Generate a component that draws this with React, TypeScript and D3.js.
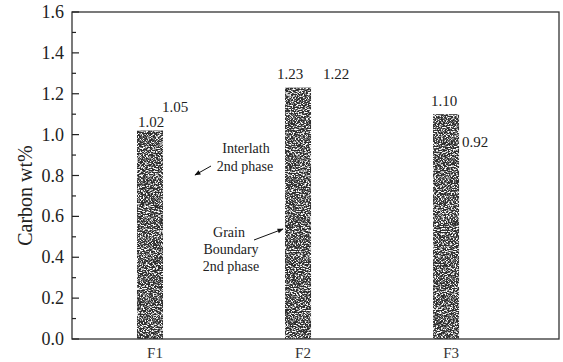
import React from "react";
import * as d3 from "d3";

// Carbon content of the three steels, with the second-phase readings
const categories = ["F1", "F2", "F3"];
const barValues = [1.02, 1.23, 1.1];
const secondValues = [1.05, 1.22, 0.92];
const yTicks = [0, 0.2, 0.4, 0.6, 0.8, 1.0, 1.2, 1.4, 1.6];

const W = 563;
const H = 362;
const m = { left: 72, right: 559, top: 12, bottom: 339 };

export default function App() {
  const x = d3.scaleLinear().domain([0.473, 3.763]).range([m.left, m.right]);
  const y = d3.scaleLinear().domain([0, 1.6]).range([m.bottom, m.top]);
  const minor = d3.range(0, 1.61, 0.1);
  const barW = 26;
  const font = "'Liberation Serif', 'DejaVu Serif', serif";

  // label offsets for the values, relative to each bar centre and top
  const firstPos = [
    { dx: 1, dy: -4 },
    { dx: -8, dy: -9 },
    { dx: -2, dy: -8 },
  ];
  const secondPos = [
    { dx: 25, dy: -19 },
    { dx: 38, dy: -9 },
    { dx: 29, dy: 33 },
  ];

  return (
    <svg width={W} height={H} style={{ position: "absolute", left: 0, top: 0 }} fontFamily={font}>
      <defs>
        <filter id="grain" x="0" y="0" width="100%" height="100%">
          <feTurbulence type="fractalNoise" baseFrequency="0.6 0.95" numOctaves="2" seed="7" result="n" />
          <feColorMatrix
            in="n"
            type="matrix"
            values="0 0 0 0 1  0 0 0 0 1  0 0 0 0 1  5 0 0 0 -2.3"
            result="speck"
          />
          <feComposite in="speck" in2="SourceGraphic" operator="in" />
        </filter>
        <marker id="ah" viewBox="0 0 10 10" refX="9" refY="5" markerWidth="7" markerHeight="6" orient="auto">
          <path d="M0,1 L10,5 L0,9 z" fill="#111" />
        </marker>
      </defs>
      <rect width={W} height={H} fill="#fff" />

      {/* bars */}
      {categories.map((c, i) => {
        const cx = x(i + 1);
        const top = y(barValues[i]);
        return (
          <g key={c}>
            <rect x={cx - barW / 2} y={top} width={barW} height={y(0) - top} fill="#2e2e2e" />
            <rect x={cx - barW / 2} y={top} width={barW} height={y(0) - top} fill="#000" filter="url(#grain)" />
          </g>
        );
      })}

      {/* frame */}
      <rect
        x={m.left}
        y={m.top}
        width={m.right - m.left}
        height={m.bottom - m.top}
        fill="none"
        stroke="#333"
        strokeWidth={1.3}
      />

      {/* y ticks */}
      {minor.map((v, i) => (
        <line
          key={"t" + i}
          x1={m.left}
          x2={m.left + (i % 2 === 0 ? 7 : 4)}
          y1={y(v)}
          y2={y(v)}
          stroke="#222"
          strokeWidth={1.2}
        />
      ))}
      {yTicks.map((v) => (
        <text key={"l" + v} x={64} y={y(v) + 6} textAnchor="end" fontSize={18} fill="#222">
          {d3.format(".1f")(v)}
        </text>
      ))}
      <text
        transform={`translate(32,${(m.top + m.bottom) / 2 + 20}) rotate(-90)`}
        textAnchor="middle"
        fontSize={20}
        fill="#222"
      >
        Carbon wt%
      </text>

      {/* x labels */}
      {categories.map((c, i) => (
        <text key={"x" + c} x={x(i + 1) + 5} y={358} textAnchor="middle" fontSize={15} fill="#333">
          {c}
        </text>
      ))}

      {/* value labels */}
      {categories.map((c, i) => (
        <g key={"v" + c} fontSize={15} fill="#222">
          <text x={x(i + 1) + firstPos[i].dx} y={y(barValues[i]) + firstPos[i].dy} textAnchor="middle">
            {d3.format(".2f")(barValues[i])}
          </text>
          <text
            x={x(i + 1) + secondPos[i].dx}
            y={y(barValues[i]) + secondPos[i].dy}
            textAnchor="middle"
          >
            {d3.format(".2f")(secondValues[i])}
          </text>
        </g>
      ))}

      {/* annotations */}
      <g fontSize={14} fill="#222">
        <text x={246} y={153} textAnchor="middle">Interlath</text>
        <text x={245} y={171} textAnchor="middle">2nd phase</text>
        <line x1={211} y1={166} x2={195} y2={175} stroke="#111" strokeWidth={1} markerEnd="url(#ah)" />

        <text x={229} y={237} textAnchor="middle">Grain</text>
        <text x={231} y={254} textAnchor="middle">Boundary</text>
        <text x={231} y={271} textAnchor="middle">2nd phase</text>
        <line x1={254} y1={240} x2={283} y2={229} stroke="#111" strokeWidth={1} markerEnd="url(#ah)" />
      </g>
    </svg>
  );
}
